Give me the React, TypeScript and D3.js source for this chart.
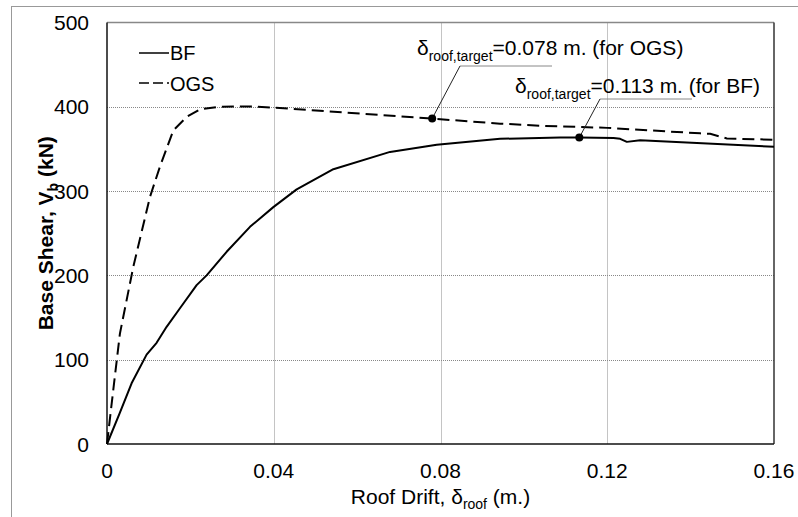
import React from "react";
import * as d3 from "d3";

const bfDrift = [0, 0.003, 0.0059, 0.0095, 0.0119, 0.0143, 0.0175, 0.0215, 0.0239, 0.0287, 0.0343, 0.0399, 0.0455, 0.0543, 0.0679, 0.0791, 0.0943, 0.1087, 0.1133, 0.1215, 0.1231, 0.1247, 0.1279, 0.16];
const bfShear = [0, 36, 72, 106, 120, 139, 161, 188.5, 200, 228, 257.6, 281, 302, 326, 346.5, 355, 362, 363.6, 363.5, 363, 362, 358.4, 360.4, 352.5];

const ogsDrift = [0, 0.0015, 0.0031, 0.0063, 0.0103, 0.0127, 0.0159, 0.0191, 0.0223, 0.0271, 0.0343, 0.04, 0.078, 0.0943, 0.1043, 0.12, 0.1423, 0.1447, 0.1487, 0.16];
const ogsShear = [0, 64, 131, 210, 293, 329, 372, 388, 397, 400, 400.5, 399, 386, 380, 377.5, 375, 368.5, 368, 362.4, 361];

const xTicks = [0, 0.04, 0.08, 0.12, 0.16];
const xTickLabels = ["0", "0.04", "0.08", "0.12", "0.16"];
const yTicks = [0, 100, 200, 300, 400, 500];

const targets = [
  { drift: 0.078, shear: 386, value: "0.078", which: "OGS" },
  { drift: 0.1133, shear: 363.5, value: "0.113", which: "BF" },
];

const FONT = "Arial, 'Liberation Sans', Helvetica, sans-serif";

export default function App() {
  const W = 798, H = 517;
  const left = 107, right = 774, top = 22.5, bottom = 444;
  const x = d3.scaleLinear().domain([0, 0.16]).range([left, right]);
  const y = d3.scaleLinear().domain([0, 500]).range([bottom, top]);

  const line = d3.line<[number, number]>().x((d) => x(d[0])).y((d) => y(d[1]));
  const bfPath = line(bfDrift.map((d, i) => [d, bfShear[i]]) as [number, number][]) || "";
  const ogsPath = line(ogsDrift.map((d, i) => [d, ogsShear[i]]) as [number, number][]) || "";

  const ann = [
    { tx: 417, ty: 55, ulx1: 460, ulx2: 552, uly: 66 },
    { tx: 515, ty: 93, ulx1: 600, ulx2: 692, uly: 99 },
  ];

  return (
    <svg width={W} height={H} style={{ position: "absolute", left: 0, top: 0, background: "#fff" }} fontFamily={FONT}>
      <rect x={0} y={0} width={W} height={H} fill="#fff" />
      <line x1={11} y1={6.5} x2={W} y2={6.5} stroke="#999" strokeWidth={1} />
      <line x1={11.5} y1={6} x2={11.5} y2={H} stroke="#999" strokeWidth={1} />

      {yTicks.filter((t) => t > 0 && t < 500).map((t) => (
        <line key={"gy" + t} x1={left} x2={right} y1={Math.round(y(t)) + 0.5} y2={Math.round(y(t)) + 0.5} stroke="#888" strokeWidth={1} strokeDasharray="1,1" />
      ))}
      {xTicks.filter((t) => t > 0 && t < 0.16).map((t) => (
        <line key={"gx" + t} x1={Math.round(x(t)) + 0.5} x2={Math.round(x(t)) + 0.5} y1={top} y2={bottom} stroke="#888" strokeWidth={1} strokeDasharray="1,1" />
      ))}

      <line x1={left} x2={right} y1={top} y2={top} stroke="#888" strokeWidth={1.5} />
      <line x1={right} x2={right} y1={top} y2={bottom} stroke="#333" strokeWidth={1.5} />
      <line x1={left} x2={left} y1={top} y2={bottom} stroke="#111" strokeWidth={1.5} />
      <line x1={left} x2={right} y1={bottom} y2={bottom} stroke="#111" strokeWidth={1.5} />

      <path d={ogsPath} fill="none" stroke="#000" strokeWidth={2} strokeDasharray="12,6" />
      <path d={bfPath} fill="none" stroke="#000" strokeWidth={2} strokeLinejoin="round" />

      {yTicks.map((t) => (
        <text key={"yt" + t} x={89} y={y(t)} dy="0.36em" textAnchor="end" fontSize={21} fill="#000">{t}</text>
      ))}
      {xTicks.map((t, i) => (
        <text key={"xt" + t} x={x(t)} y={478} textAnchor="middle" fontSize={21} fill="#000">{xTickLabels[i]}</text>
      ))}

      <text x={(left + right) / 2} y={504} textAnchor="middle" fontSize={21} fill="#000">
        Roof Drift, δ<tspan fontSize={14} dy={5}>roof</tspan><tspan dy={-5}> (m.)</tspan>
      </text>
      <text transform={`translate(53, ${(top + bottom) / 2}) rotate(-90)`} textAnchor="middle" fontSize={21} fontWeight="bold" fill="#000">
        Base Shear, V<tspan fontSize={14} dy={5}>b</tspan><tspan dy={-5}> (kN)</tspan>
      </text>

      <line x1={139} x2={169} y1={53} y2={53} stroke="#000" strokeWidth={1.5} />
      <text x={170} y={60} fontSize={20} fill="#000">BF</text>
      <line x1={139} x2={169} y1={83} y2={83} stroke="#000" strokeWidth={1.5} strokeDasharray="10,4" />
      <text x={170} y={91} fontSize={20} fill="#000">OGS</text>

      {targets.map((t, i) => {
        const a = ann[i];
        return (
          <g key={"ann" + i}>
            <line x1={a.ulx1} y1={a.uly} x2={a.ulx2} y2={a.uly} stroke="#888" strokeWidth={1} />
            <line x1={a.ulx1} y1={a.uly} x2={x(t.drift)} y2={y(t.shear)} stroke="#222" strokeWidth={1} />
            <circle cx={x(t.drift)} cy={y(t.shear)} r={4} fill="#000" />
            <text x={a.tx} y={a.ty} fontSize={21} fill="#000">
              δ<tspan fontSize={14} dy={6}>roof,target</tspan><tspan dy={-6}>={t.value} m. (for {t.which})</tspan>
            </text>
          </g>
        );
      })}
    </svg>
  );
}
